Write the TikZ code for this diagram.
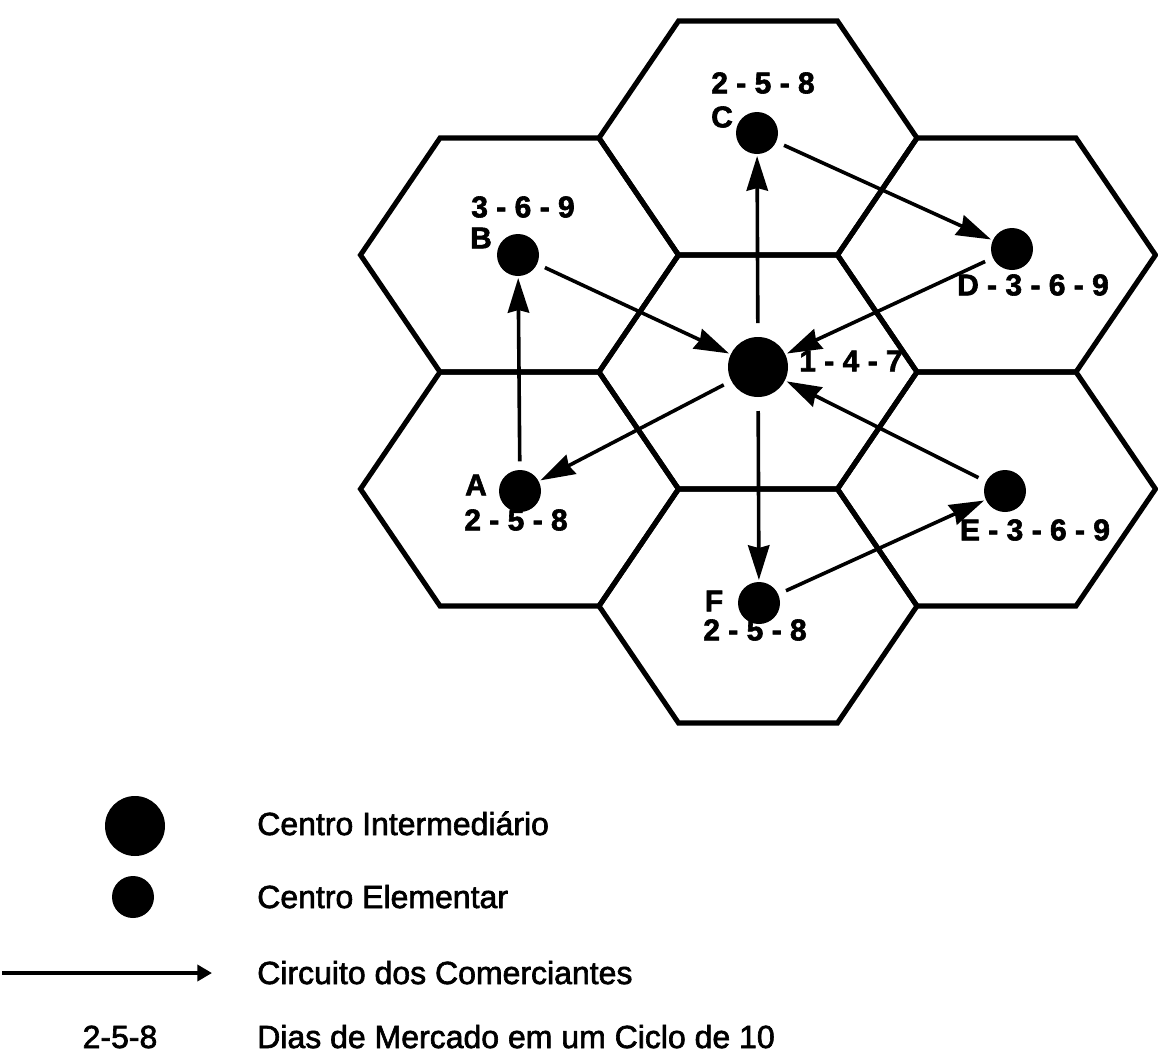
\documentclass[tikz,border=0pt]{standalone}
\usepackage{fontspec}
\setmainfont{Liberation Sans}
\newfontfamily\legendfont[FakeBold=2]{Liberation Sans}
\newfontfamily\labelfont[FakeBold=2]{Liberation Sans}
\usetikzlibrary{arrows.meta}

\tikzset{
  hexline/.style={line width=3.8pt, line join=miter},
  market/.style={circle, fill=black, inner sep=0pt, minimum size=31.5pt, outer sep=1.5pt},
  bigmarket/.style={market, minimum size=45pt},
  route/.style={line width=2.7pt, -{Stealth[length=26pt,width=16pt,inset=2pt]}, shorten <=5pt},
  keyroute/.style={line width=2.8pt, -{Triangle[length=11pt,width=12pt]}},
  daylabel/.style={inner sep=0pt, font=\labelfont\fontsize{22.5}{24}\selectfont\bfseries},
  legendtext/.style={anchor=base west, inner sep=0pt, font=\legendfont\fontsize{24}{28}\selectfont}
}

\begin{document}
\begin{tikzpicture}[x=0.75pt,y=0.75pt,yscale=-1,xscale=1]
\useasboundingbox (0,0) rectangle (1158,1054);

%Shape: Hexagons [centre / top-left-right / bottom]
\foreach \cx/\cy in {758/372, 758/138, 758/606, 519.5/255, 519.5/489, 996.5/255, 996.5/489}
  \draw [hexline] (\cx-159,\cy) -- (\cx-79.5,\cy-117) -- (\cx+79.5,\cy-117) -- (\cx+159,\cy) -- (\cx+79.5,\cy+117) -- (\cx-79.5,\cy+117) -- cycle ;

%Shape: Markets
\node [bigmarket] (M) at (758,367) {};
\node [market] (C) at (757,133) {};
\node [market] (B) at (518,255) {};
\node [market] (D) at (1012,249) {};
\node [market] (A) at (520,491) {};
\node [market] (E) at (1005,491) {};
\node [market] (F) at (759,603) {};

%Straight Lines: circuit
\draw [route, shorten <=9pt] (M) -- (C) ;
\draw [route] (C) -- (D) ;
\draw [route] (D) -- (M) ;
\draw [route] (B) -- (M) ;
\draw [route] (M) -- (A) ;
\draw [route] (A) -- (B) ;
\draw [route, shorten <=9pt] (M) -- (F) ;
\draw [route] (F) -- (E) ;
\draw [route] (E) -- (M) ;

% Text Node
\node [daylabel] (Cdays) at (763,83) {2 - 5 - 8};
% Text Node
\node [daylabel] (Cname) at (722,117) {C};
% Text Node
\node [daylabel] (Bdays) at (523,207) {3 - 6 - 9};
% Text Node
\node [daylabel] (Bname) at (481,238) {B};
% Text Node
\node [daylabel] (Aname) at (476,485) {A};
% Text Node
\node [daylabel] (Adays) at (516,520) {2 - 5 - 8};
% Text Node
\node [daylabel] (Fname) at (714,601) {F};
% Text Node
\node [daylabel] (Fdays) at (755,630) {2 - 5 - 8};
% Text Node
\node [daylabel] (Mdays) at (851,361) {1 - 4 - 7};
% Text Node
\node [daylabel] (Ddays) at (1033,285) {D - 3 - 6 - 9};
% Text Node
\node [daylabel] (Edays) at (1035,530) {E - 3 - 6 - 9};

%Legend
\node [bigmarket] (keybig) at (135,826) {};
\node [market] (keysmall) at (133,897) {};
\coordinate (keyfrom) at (2,973);
\coordinate (keyto) at (212,973);
\draw [keyroute] (keyfrom) -- (keyto) ;

% Text Node
\node [legendtext] (keybigtext) at (257,835) {Centro Intermediário};
% Text Node
\node [legendtext] (keysmalltext) at (257,908) {Centro Elementar};
% Text Node
\node [legendtext] (keyroutetext) at (257,984) {Circuito dos Comerciantes};
% Text Node
\node [legendtext, anchor=base] (keydays) at (120,1048) {2-5-8};
% Text Node
\node [legendtext] (keydaystext) at (257,1048) {Dias de Mercado em um Ciclo de 10};

\end{tikzpicture}
\end{document}
